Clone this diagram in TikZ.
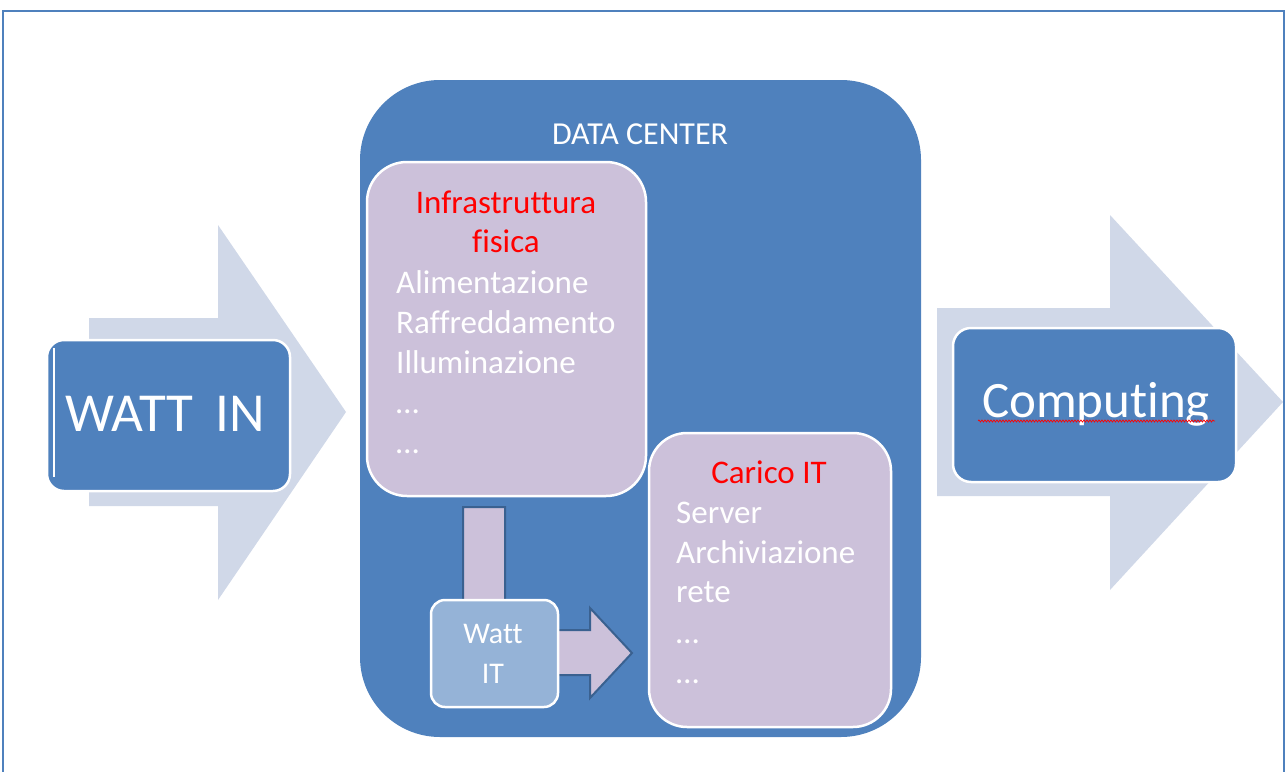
\documentclass[tikz,border=0pt]{standalone}
\usepackage{fontspec}
\setmainfont[Ligatures={NoCommon,NoRare,NoContextual}]{Carlito}
\usetikzlibrary{decorations.pathmorphing}
\definecolor{dcblue}{HTML}{4F81BD}
\definecolor{lav}{HTML}{CCC1DA}
\definecolor{arrowlight}{HTML}{D0D8E8}
\definecolor{wattit}{HTML}{95B3D7}
\definecolor{darkout}{HTML}{3A6190}
\begin{document}
\begin{tikzpicture}[x=1pt,y=-1pt,
  box/.style={draw=white, line width=2.5pt, inner sep=0pt, outer sep=0pt},
  bigarrow/.style={fill=arrowlight, draw=none},
  txt/.style={text=white, inner sep=0pt, anchor=base},
  listtxt/.style={text=white, inner sep=0pt, anchor=base west, font=\fontsize{33}{40}\selectfont},
  title/.style={text=red, inner sep=0pt, anchor=base, font=\fontsize{33}{40}\selectfont}]
\useasboundingbox (0,0) rectangle (1287,771);
% frame
\draw[dcblue, line width=2pt] (3,800) -- (3,11) -- (1284,11) -- (1284,800);
% big arrows
\path[bigarrow] (89,318) -- (218,318) -- (218,225) -- (346,412) -- (218,600) -- (218,506) -- (89,506) -- cycle;
\path[bigarrow] (937,308) -- (1110,308) -- (1110,215) -- (1283,402) -- (1110,590) -- (1110,496) -- (937,496) -- cycle;
% WATT IN
\node[box, fill=dcblue, rounded corners=17pt, minimum width=243pt, minimum height=151pt] (wattin) at (168.5,415.5) {};
\draw[white, line width=1.2pt] ([xshift=7pt, yshift=-8pt]wattin.north west) -- ([xshift=7pt, yshift=14pt]wattin.south west);
\node[txt, font=\fontsize{55}{60}\selectfont] (wattintxt) at (165,431) {WATT\, IN};
% Computing
\node[box, fill=dcblue, rounded corners=18pt, minimum width=283pt, minimum height=154pt] (comp) at (1094.5,405) {};
\node[txt, font=\fontsize{51}{60}\selectfont] (comptxt) at (1096,417) {Computing};
\coordinate (sqa) at (978,421);
\coordinate (sqb) at (1215,421);
\draw[red, line width=0.7pt, decorate, decoration={snake, amplitude=1pt, segment length=3pt}] (sqa) -- (sqb);
% Data center
\node[fill=dcblue, draw=none, rounded corners=80pt, minimum width=561pt, minimum height=657pt, inner sep=0pt] (dc) at (640.5,408.5) {};
\node[txt, font=\fontsize{32}{40}\selectfont] (dctxt) at (640,144) {DATA CENTER};
% bent arrow
\path[fill=lav, draw=darkout, line width=2pt, line join=miter] (463,507) -- (505,507) -- (505,630) -- (590,630) -- (590,608) -- (632,653) -- (590,698) -- (590,675) -- (463,675) -- cycle;
% Infrastruttura
\node[box, fill=lav, rounded corners=40pt, minimum width=279pt, minimum height=334pt] (infra) at (506.5,329) {};
\node[title] (infrat1) at (506,213) {Infrastruttura};
\node[title] (infrat2) at (506,252) {fisica};
\node[listtxt] (i1) at (396,293) {Alimentazione};
\node[listtxt] (i2) at (396,333) {Raffreddamento};
\node[listtxt] (i3) at (396,373) {Illuminazione};
\node[listtxt] (i4) at (396,413) {…};
\node[listtxt] (i5) at (396,453) {…};
% Carico IT
\node[box, fill=lav, rounded corners=38pt, minimum width=242pt, minimum height=294pt] (carico) at (770,580) {};
\node[title] (caricot) at (769,483) {Carico IT};
\node[listtxt] (c1) at (676,523) {Server};
\node[listtxt] (c2) at (676,563) {Archiviazione};
\node[listtxt] (c3) at (676,602) {rete};
\node[listtxt] (c4) at (676,643) {…};
\node[listtxt] (c5) at (676,683) {…};
% Watt IT
\node[box, fill=wattit, rounded corners=14pt, minimum width=127pt, minimum height=107pt] (wattit) at (494.5,653.5) {};
\node[txt, font=\fontsize{30}{40}\selectfont] (wattitt1) at (493,643) {Watt};
\node[txt, font=\fontsize{30}{40}\selectfont] (wattitt2) at (493,683) {IT};
\end{tikzpicture}
\end{document}
